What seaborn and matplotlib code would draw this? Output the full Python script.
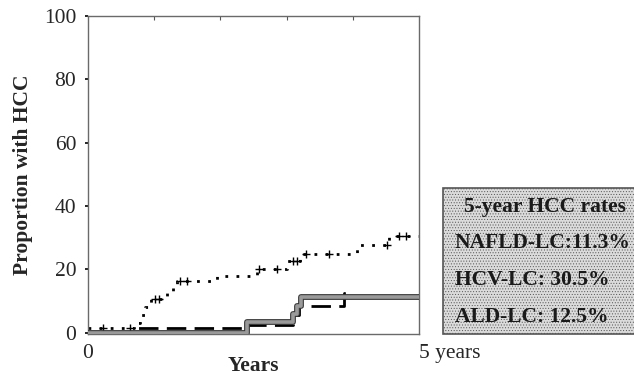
import numpy as np
import pandas as pd
import seaborn as sns
import matplotlib
matplotlib.use("Agg")
import matplotlib.pyplot as plt
import matplotlib.patheffects as pe
from matplotlib.patches import Rectangle
from matplotlib.transforms import ScaledTranslation

# Cumulative HCC incidence (%) by years of follow-up, step functions
hcv_t = [0.0, 0.70, 0.78, 0.86, 0.95, 1.20, 1.28, 1.35, 1.95, 2.55, 3.00, 3.20, 4.07, 4.55, 5.00]
hcv_y = [1.5, 3.0, 5.5, 8.0, 10.5, 12.5, 14.5, 16.4, 18.0, 20.0, 22.7, 25.0, 27.8, 30.5, 30.5]
hcv_censor = [0.23, 0.63, 1.01, 1.08, 1.39, 1.49, 2.59, 2.85, 3.09, 3.16, 3.30, 3.64, 4.52, 4.70, 4.80]

nafld_t = [0.0, 2.40, 3.10, 3.16, 3.22, 5.00]
nafld_y = [0.0, 3.5, 6.0, 8.5, 11.3, 11.3]

ald_t = [0.0, 0.70, 2.40, 3.10, 3.18, 3.87, 3.90]
ald_y = [0.0, 1.5, 2.5, 5.5, 8.5, 12.5, 12.5]

rate_title = "5-year HCC rates"
rate_lines = ["NAFLD-LC:11.3%", "HCV-LC: 30.5%", "ALD-LC: 12.5%"]

y_ticks = [0, 20, 40, 60, 80, 100]
x_tick_labels = ["0", "5 years"]

sns.set_theme(style="white")
plt.rcParams["font.family"] = ["Liberation Serif", "DejaVu Serif"]
plt.rcParams["hatch.color"] = "#c9c9c9"
plt.rcParams["hatch.linewidth"] = 0.4

fig = plt.figure(figsize=(6.34, 3.80), dpi=100)
ax = fig.add_axes([88 / 634, 46 / 380, 331 / 634, 318 / 380])

hcv = pd.DataFrame({"t": hcv_t, "y": hcv_y})
nafld = pd.DataFrame({"t": nafld_t, "y": nafld_y})
ald = pd.DataFrame({"t": ald_t, "y": ald_y})

sns.lineplot(data=hcv, x="t", y="y", ax=ax, drawstyle="steps-post", color="black",
             lw=2.0, linestyle=(0, (1, 3.0)), estimator=None, sort=False)

# censoring marks sit on the HCV step curve
ct = np.array(hcv_censor)
idx = np.searchsorted(np.array(hcv_t), ct, side="right") - 1
cens = pd.DataFrame({"t": ct, "y": np.array(hcv_y)[idx]})
sns.scatterplot(data=cens, x="t", y="y", ax=ax, marker="+", s=40, color="black",
                linewidth=1.0, zorder=4)

sns.lineplot(data=ald, x="t", y="y", ax=ax, drawstyle="steps-post", color="black",
             lw=2.0, linestyle=(0, (7, 3)), estimator=None, sort=False)

sns.lineplot(data=nafld, x="t", y="y", ax=ax, drawstyle="steps-post", color="#9a9a9a",
             lw=2.6, estimator=None, sort=False, zorder=5,
             path_effects=[pe.Stroke(linewidth=4.2, foreground="#3a3a3a"), pe.Normal()])

ax.set_xlim(0, 5)
ax.set_ylim(-0.4, 100)
ax.set_yticks(y_ticks)
ax.set_yticklabels([str(v) for v in y_ticks], fontsize=15.5)
ax.set_xticks([0, 5])
ax.set_xticklabels(x_tick_labels, fontsize=15.5)
ax.set_xticks([1, 2, 3, 4], minor=True)

lbl5 = ax.get_xticklabels()[1]
lbl5.set_horizontalalignment("left")
lbl5.set_transform(lbl5.get_transform() + ScaledTranslation(-0.12, 0.02, fig.dpi_scale_trans))

ax.tick_params(axis="x", which="major", bottom=False, top=False, pad=1)
ax.tick_params(axis="x", which="minor", bottom=False, top=True, direction="in",
               length=3, width=0.8, color="#555555")
ax.tick_params(axis="y", which="major", left=True, direction="out", length=2.5,
               width=1.2, color="black", pad=6)

for s in ax.spines.values():
    s.set_color("#6a6a6a")
    s.set_linewidth(1.0)

ax.set_xlabel("Years", fontsize=15.5, fontweight="bold", labelpad=-5)
ax.set_ylabel("Proportion with HCC", fontsize=15.5, fontweight="bold", labelpad=8)

# summary box on the right
box = Rectangle((443 / 634, 46 / 380), 200 / 634, 146 / 380, transform=fig.transFigure,
                facecolor="#dbdbdb", edgecolor="#555555", lw=1.2, hatch="......",
                zorder=0)
fig.patches.append(box)

fig.text(545 / 634, 1 - 207 / 380, rate_title, ha="center", va="center",
         fontsize=15.5, fontweight="bold", color="#1a1a1a")
for i, line in enumerate(rate_lines):
    fig.text(455 / 634, 1 - (243 + 37 * i) / 380, line, ha="left", va="center",
             fontsize=15.5, fontweight="bold", color="#1a1a1a")

fig.savefig("out.png", dpi=100)
